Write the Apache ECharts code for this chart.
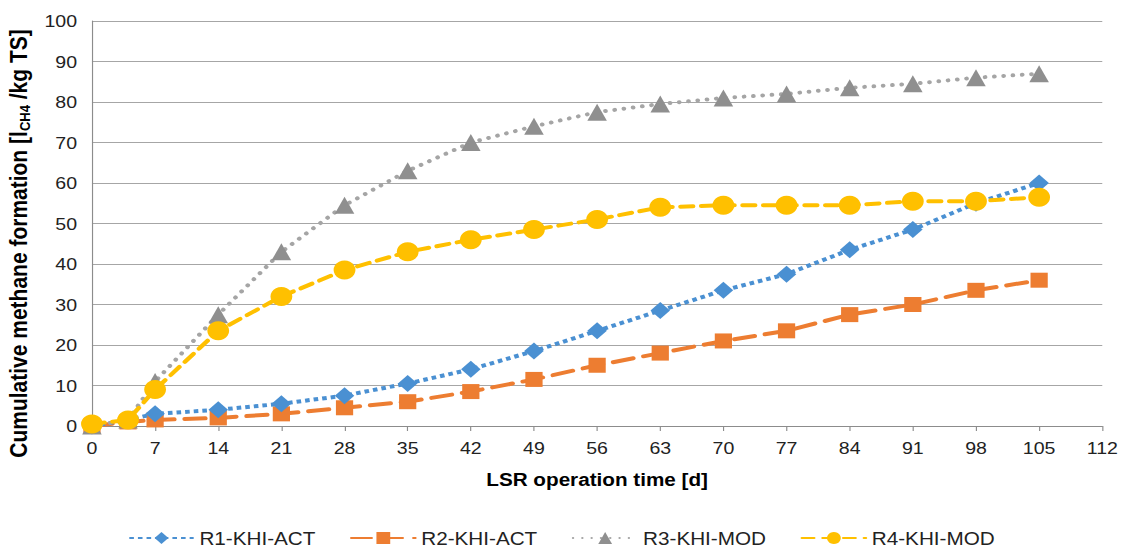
<!DOCTYPE html>
<html><head><meta charset="utf-8">
<script src="https://cdn.jsdelivr.net/npm/echarts@6/dist/echarts.min.js"></script>
<style>
html,body{margin:0;padding:0;background:#fff;overflow:hidden}
#wrap{width:1123px;height:549px;overflow:hidden}
#c{width:977px;height:549px;transform:scaleX(1.1494);transform-origin:0 0}
</style>
</head><body><div id="wrap"><div id="c"></div></div>
<script>
var days = [0, 4, 7, 14, 21, 28, 35, 42, 49, 56, 63, 70, 77, 84, 91, 98, 105];
var r1 = [0, 1.5, 3, 4, 5.5, 7.5, 10.5, 14, 18.5, 23.5, 28.5, 33.5, 37.5, 43.5, 48.5, 55, 60];
var r2 = [0, 1, 1.5, 2, 3, 4.5, 6, 8.5, 11.5, 15, 18, 21, 23.5, 27.5, 30, 33.5, 36];
var r3 = [0, 1.5, 11, 27.5, 43, 54.5, 63, 70, 74, 77.5, 79.5, 81, 82, 83.5, 84.5, 86, 87];
var r4 = [0.5, 1.5, 9, 23.5, 32, 38.5, 43, 46, 48.5, 51, 54, 54.5, 54.5, 54.5, 55.5, 55.5, 56.5];
var names = ['R1-KHI-ACT', 'R2-KHI-ACT', 'R3-KHI-MOD', 'R4-KHI-MOD'];

function pts(v){ return days.map(function(d,i){ return [d, v[i]]; }); }
var chart = echarts.init(document.getElementById('c'), null, {renderer: 'svg'});
var font = 'Liberation Sans, Arial, sans-serif';
chart.setOption({
  animation: false,
  textStyle: {fontFamily: font},
  grid: {left: 80, right: 18, top: 21, bottom: 123, containLabel: false, outerBoundsMode: 'none'},
  xAxis: {
    type: 'value', min: 0, max: 112, interval: 7,
    name: 'LSR operation time [d]', nameLocation: 'middle', nameGap: 44,
    nameTextStyle: {fontSize: 18, fontWeight: 'bold', color: '#000', fontFamily: font},
    axisLine: {show: true, lineStyle: {color: '#8c8c8c', width: 1}},
    axisTick: {show: true, length: 5, lineStyle: {color: '#8c8c8c'}},
    axisLabel: {fontSize: 17, color: '#222', margin: 13, fontFamily: font},
    splitLine: {show: false}
  },
  yAxis: {
    type: 'value', min: 0, max: 100, interval: 10,
    name: '{t|Cumulative methane formation [l}{s|CH4}{t| /kg TS]}', nameLocation: 'middle', nameGap: 52,
    nameTextStyle: {fontSize: 21, fontWeight: 'bold', color: '#000', fontFamily: font, padding: [0, 40, 0, 0],
      rich: {t: {fontSize: 21, fontWeight: 'bold', fontFamily: font, color: '#000'},
             s: {fontSize: 13, fontWeight: 'bold', fontFamily: font, color: '#000', verticalAlign: 'bottom', padding: [9,0,0,0]}}},
    axisLine: {show: true, lineStyle: {color: '#8c8c8c', width: 1}},
    axisTick: {show: false},
    axisLabel: {fontSize: 17, color: '#222', margin: 13, fontFamily: font},
    splitLine: {show: true, lineStyle: {color: '#a6a6a6', width: 1}}
  },
  legend: {
    top: 524, left: 'center', itemGap: 30, itemWidth: 56, itemHeight: 15,
    textStyle: {fontSize: 18, color: '#222', fontFamily: font},
    data: names
  },
  series: [
    {name: names[0], type: 'line', data: pts(r1), symbol: 'diamond', symbolSize: 17,
     itemStyle: {color: '#4A90D2'}, lineStyle: {color: '#4A90D2', width: 4, type: [4,3.5], cap: 'butt'}, z: 3},
    {name: names[1], type: 'line', data: pts(r2), symbol: 'rect', symbolSize: 15,
     itemStyle: {color: '#ED7D31'}, lineStyle: {color: '#ED7D31', width: 4, type: [18,9], cap: 'round'}, z: 2},
    {name: names[2], type: 'line', data: pts(r3), symbol: 'triangle', symbolSize: 17,
     itemStyle: {color: '#8f8f8f'}, lineStyle: {color: '#A5A5A5', width: 4, type: [0.1,8], cap: 'round'}, z: 4},
    {name: names[3], type: 'line', data: pts(r4), symbol: 'circle', symbolSize: 19,
     itemStyle: {color: '#FFC000'}, lineStyle: {color: '#FFC000', width: 4, type: [11,7], cap: 'round'}, z: 5}
  ]
});
</script></body></html>
